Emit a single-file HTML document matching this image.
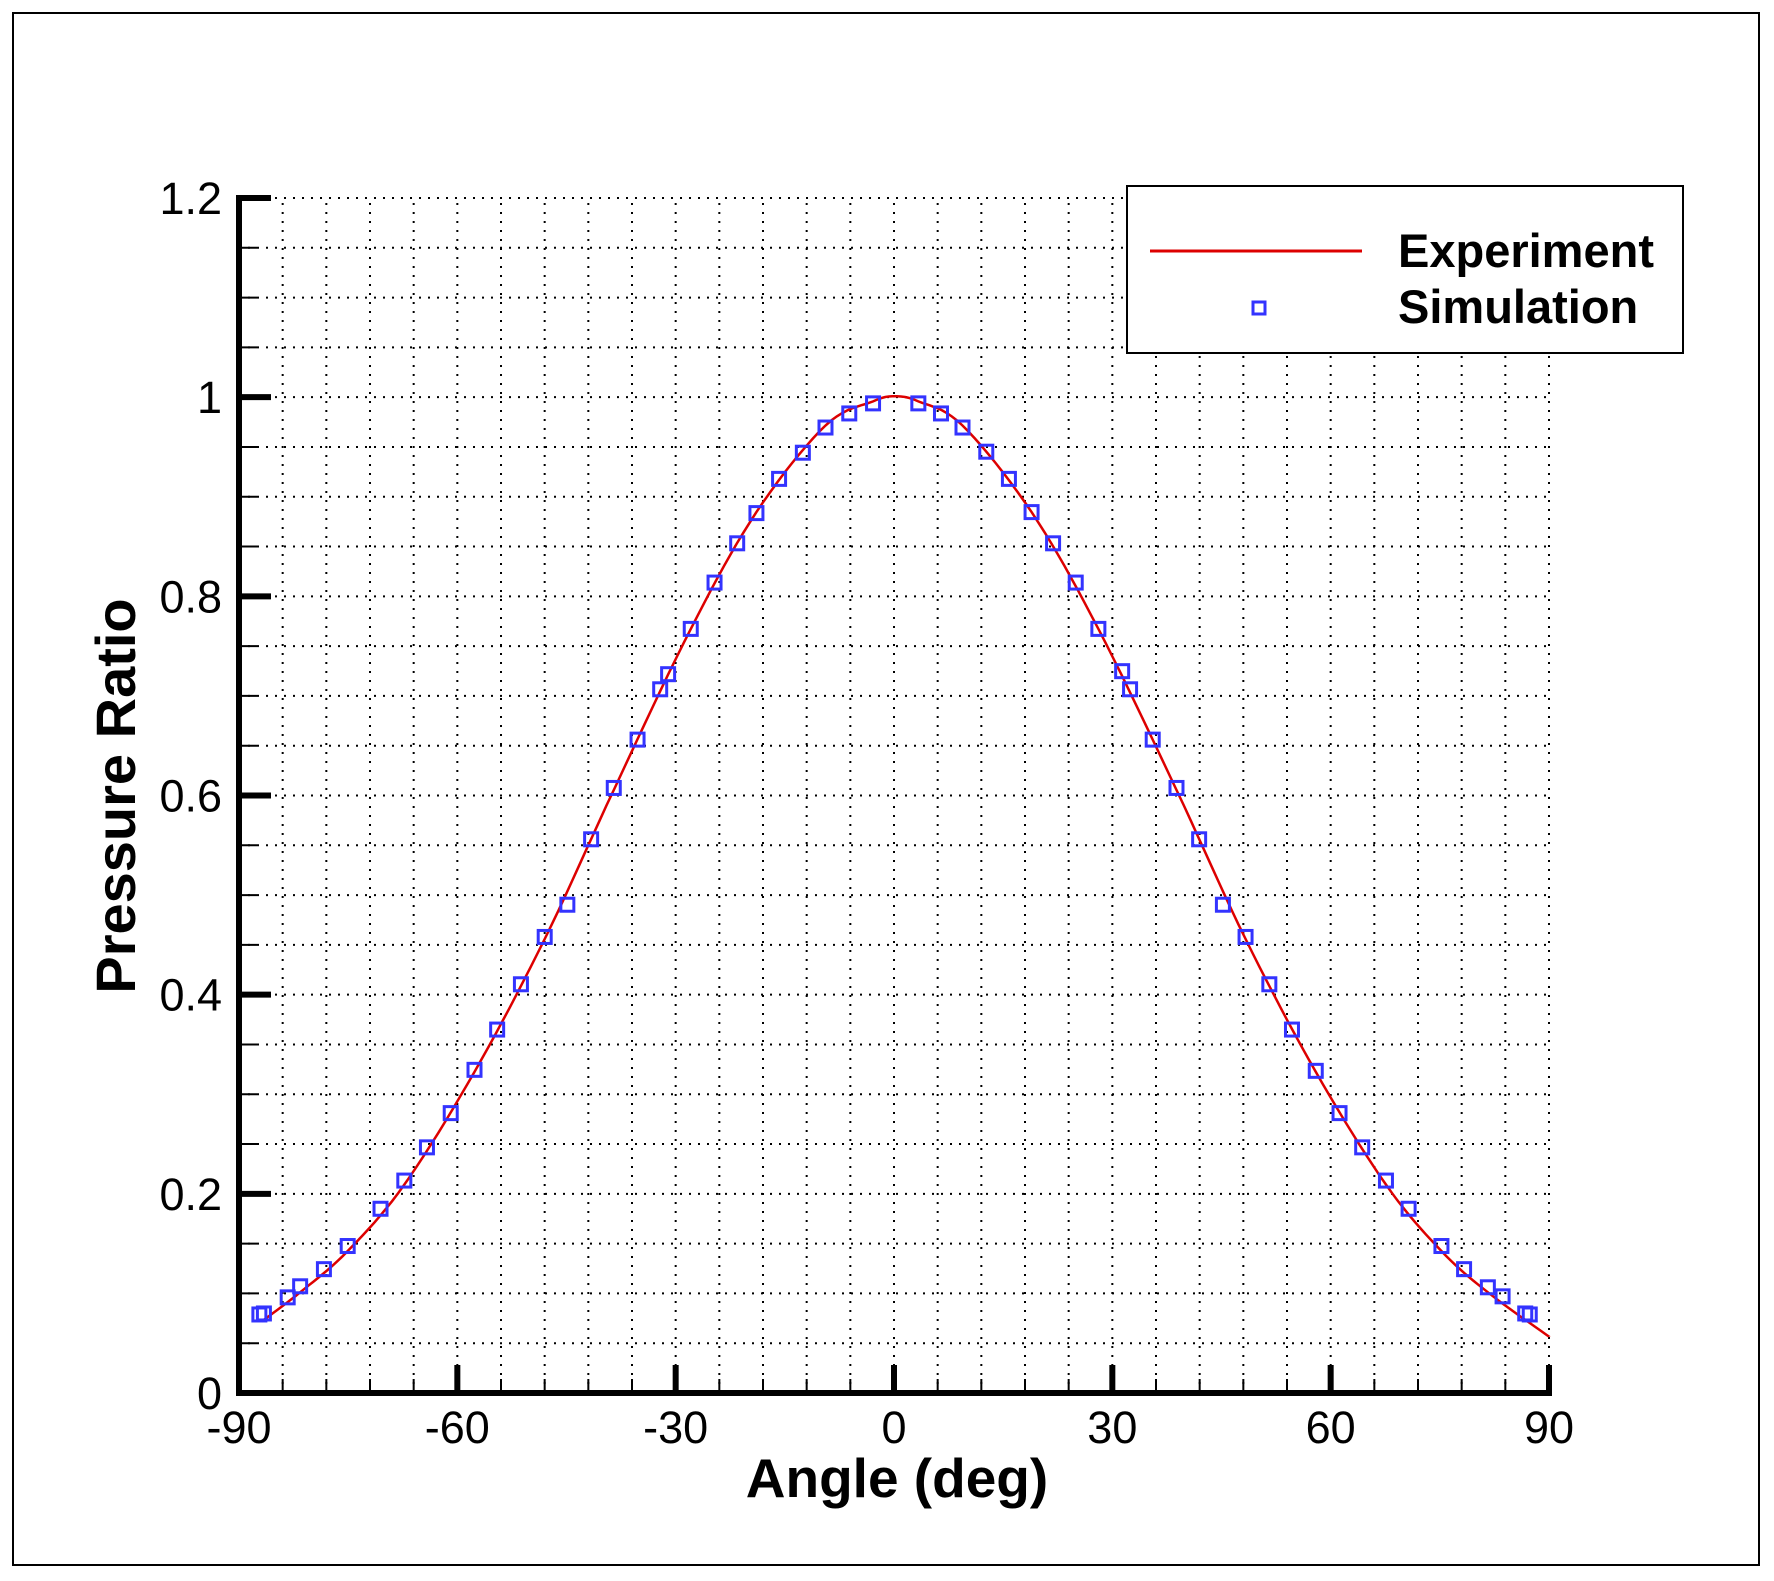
<!DOCTYPE html>
<html><head><meta charset="utf-8"><style>
html,body{margin:0;padding:0;background:#fff}
svg{display:block}
text{font-family:"Liberation Sans",Arial,sans-serif}
</style></head><body>
<svg id="s" width="1774" height="1581" xmlns="http://www.w3.org/2000/svg">
<rect x="13" y="13" width="1746" height="1552" fill="#fff" stroke="#000" stroke-width="2"/>
<g id="grid"></g>
<g id="axes"></g>
<g id="labels" font-size="45" fill="#000"></g>
<polyline id="curve" fill="none" stroke="#dd0000" stroke-width="2.5"/>
<g id="pts" fill="none" stroke="#3333ff" stroke-width="3"></g>
<text x="897" y="1497" font-size="55" font-weight="bold" text-anchor="middle">Angle (deg)</text>
<text transform="translate(135,796) rotate(-90)" font-size="56" font-weight="bold" text-anchor="middle">Pressure Ratio</text>
<rect x="1127" y="186" width="556" height="167" fill="#fff" stroke="#000" stroke-width="2"/>
<line x1="1150" y1="251" x2="1362" y2="251" stroke="#dd0000" stroke-width="3"/>
<rect x="1253" y="302" width="12" height="12" fill="none" stroke="#3333ff" stroke-width="3"/>
<text x="1398" y="267" font-size="47" font-weight="bold">Experiment</text>
<text x="1398" y="323" font-size="47" font-weight="bold">Simulation</text>
</svg>
<script>
var NS="http://www.w3.org/2000/svg";
var X0=239,X1=1549,Y0=1393,Y1=198;
function px(a){return X0+(a+90)/180*(X1-X0);}
function py(v){return Y0-v/1.2*(Y0-Y1);}
function el(t,a,p){var e=document.createElementNS(NS,t);for(var k in a)e.setAttribute(k,a[k]);(p||document.getElementById('s')).appendChild(e);return e;}
var g=document.getElementById('grid'),ax=document.getElementById('axes'),lb=document.getElementById('labels');
for(var a=-84;a<=90;a+=6){el('line',{x1:px(a),y1:Y0,x2:px(a),y2:Y1,stroke:'#000','stroke-width':2,'stroke-dasharray':'2 7'},g);}
for(var i=1;i<=24;i++){var y=py(i*0.05);el('line',{x1:X0,y1:y,x2:X1,y2:y,stroke:'#000','stroke-width':2,'stroke-dasharray':'2 7'},g);}
el('line',{x1:X0,y1:Y1-3,x2:X0,y2:Y0+3,stroke:'#000','stroke-width':6},ax);
el('line',{x1:X0-3,y1:Y0,x2:X1+3,y2:Y0,stroke:'#000','stroke-width':6},ax);
for(var a=-90;a<=90;a+=6){var maj=(a%30==0);el('line',{x1:px(a),y1:Y0,x2:px(a),y2:Y0-(maj?28:14),stroke:'#000','stroke-width':maj?6:2},ax);}
for(var i=0;i<=24;i++){var maj=(i%4==0);var y=py(i*0.05);el('line',{x1:X0,y1:y,x2:X0+(maj?32:18),y2:y,stroke:'#000','stroke-width':maj?6:2},ax);}
[-90,-60,-30,0,30,60,90].forEach(function(a){var t=el('text',{x:px(a),y:1443,'text-anchor':'middle'},lb);t.textContent=String(a);});
['0','0.2','0.4','0.6','0.8','1','1.2'].forEach(function(s,i){var t=el('text',{x:222,y:py(i*0.2)+16,'text-anchor':'end'},lb);t.textContent=s;});
var P=[[229,1305],[233,1304],[254,1288],[265,1277],[286,1260],[307,1237],[336,1200],[357,1172],[377,1139],[398,1105],[419,1062],[439,1022],[460,977],[481,930],[501,898],[522,833],[542,782],[563,734],[583,684],[590,669],[610,624],[631,578],[651,539],[668,509],[688,475],[709,449],[729,424],[750,410],[771,400],[811,400],[831,410],[850,424],[871,448],[891,475],[911,508],[930,539],[950,578],[970,624],[991,666],[998,684],[1018,734],[1039,782],[1059,833],[1080,898],[1100,930],[1121,977],[1141,1022],[1162,1063],[1183,1105],[1203,1139],[1224,1172],[1244,1200],[1273,1237],[1293,1260],[1314,1278],[1327,1287],[1347,1304],[1351,1305]];
function mx(x){return X0+(x-211)*(X1-X0)/1157;}
function my(y){return Y1+(y-196)*(Y0-Y1)/1187;}
var pg=document.getElementById('pts');
P.forEach(function(p){var x=mx(p[0]),y=my(p[1]);el('rect',{x:x-6.5,y:y-6.5,width:13,height:13},pg);});
var C=[[231,1312],[265,1283],[307,1242],[357,1176],[419,1064],[481,932],[542,784],[610,624],[668,508],[729,422],[771,398],[790,393],[811,398],[850,422],[911,508],[970,624],[1039,784],[1100,932],[1162,1064],[1224,1176],[1273,1242],[1314,1283],[1368,1327]];
var pts=[];for(var i=0;i<C.length-1;i++){var p0=C[Math.max(0,i-1)],p1=C[i],p2=C[i+1],p3=C[Math.min(C.length-1,i+2)];for(var t=0;t<1;t+=0.1){var t2=t*t,t3=t2*t;var f=function(a,b,c,d){return 0.5*((2*b)+(-a+c)*t+(2*a-5*b+4*c-d)*t2+(-a+3*b-3*c+d)*t3);};pts.push(mx(f(p0[0],p1[0],p2[0],p3[0])).toFixed(1)+','+my(f(p0[1],p1[1],p2[1],p3[1])).toFixed(1));}}
pts.push(mx(1368)+','+my(1327));
document.getElementById('curve').setAttribute('points',pts.join(' '));
</script>
</body></html>
